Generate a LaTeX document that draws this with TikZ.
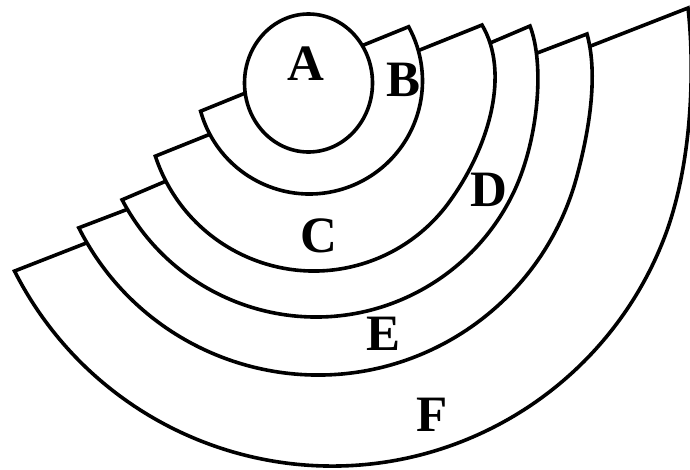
\documentclass[tikz,border=0pt]{standalone}
\usepackage{fontspec}
\newfontfamily\lblfont{Liberation Serif}
\tikzset{
  layer/.style={draw=black, fill=white, line width=3.6pt, line join=miter},
  lbl/.style={font=\lblfont\bfseries\fontsize{51}{51}\selectfont, inner sep=0pt, text=black}
}
\begin{document}
\begin{tikzpicture}[x=1pt,y=-1pt]
\useasboundingbox (0,0) rectangle (690,469);
\fill[white] (0,0) rectangle (690,469);
\clip (0,0) rectangle (690,469);
% F
\path[layer] ([shift={(332,110)}]153.1:356) arc[start angle=153.1, end angle=20, radius=356]
  .. controls (694,155) and (694,60) .. (688,8) -- cycle;
% E
\path[layer] ([shift={(318,107)}]153.2:268) arc[start angle=153.2, end angle=15, radius=268]
  .. controls (592,120) and (597,70) .. (587,34) -- cycle;
% D
\path[layer] ([shift={(316,98)}]152.3:219) arc[start angle=152.3, end angle=25, radius=219]
  .. controls (538,140) and (545,65) .. (530,26) -- cycle;
% C
\path[layer] ([shift={(314,104)}]161.8:167) arc[start angle=161.8, end angle=35, radius=167]
  .. controls (490,145) and (510,72) .. (482,25) -- cycle;
% B
\path[layer] ([shift={(309.5,81)}]164.5:113) arc[start angle=164.5, end angle=-28.7, radius=113] -- cycle;
% A
\path[layer] (308.5,83) ellipse[x radius=64, y radius=69];
% labels
\node[lbl] (A) at (306,64) {A};
\node[lbl] (B) at (404,80) {B};
\node[lbl] (C) at (319,236) {C};
\node[lbl] (D) at (489,190) {D};
\node[lbl] (E) at (384,334) {E};
\node[lbl] (F) at (432,415) {F};
\end{tikzpicture}
\end{document}
